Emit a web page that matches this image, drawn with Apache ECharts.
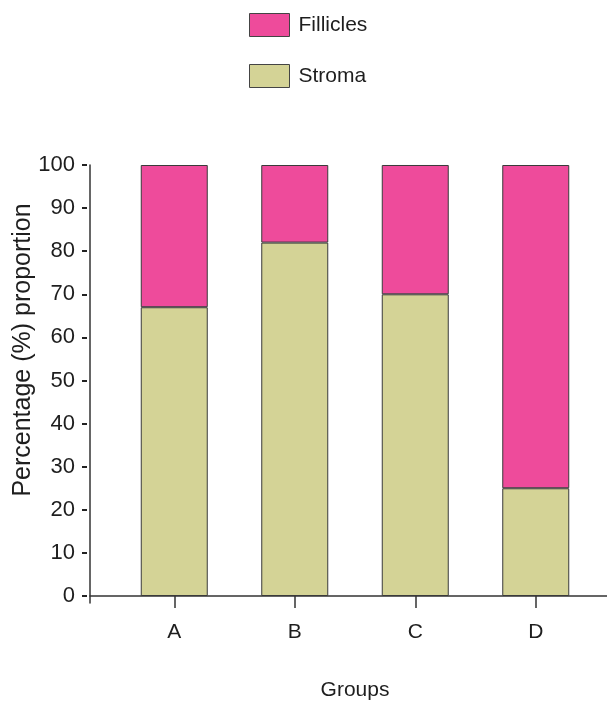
<!DOCTYPE html>
<html>
<head>
<meta charset="utf-8">
<script src="https://cdn.jsdelivr.net/npm/echarts@6/dist/echarts.min.js"></script>
<style>html,body{margin:0;padding:0;background:#fff}#c{width:607px;height:701px}</style>
</head>
<body>
<div id="c"></div>
<script>
var categories = ['A', 'B', 'C', 'D'];
var stroma = [67, 82, 70, 25];
var fillicles = [33, 18, 30, 75];
var yTicks = [0, 10, 20, 30, 40, 50, 60, 70, 80, 90, 100];

var FONT = 'Liberation Sans';
var TXT = '#1e1e1e';
var chart = echarts.init(document.getElementById('c'), null, {renderer: 'canvas'});
chart.setOption({
  animation: false,
  backgroundColor: '#fff',
  legend: {
    orient: 'vertical', left: 249, top: 13, padding: 0,
    itemWidth: 40, itemHeight: 23, itemGap: 27, icon: 'rect',
    data: ['Fillicles', 'Stroma'],
    textStyle: {fontFamily: FONT, fontSize: 21, color: TXT, padding: [3, 0, 0, 4]},
    itemStyle: {borderColor: '#444', borderWidth: 1}
  },
  grid: [
    {left: 114, right: 11, top: 165, bottom: 105, outerBoundsMode: 'none', containLabel: false},
    {left: 90, right: 0, top: 165, bottom: 98, outerBoundsMode: 'none', containLabel: false}
  ],
  xAxis: [
    {
      type: 'category', gridIndex: 0, data: categories, position: 'bottom', offset: 5,
      axisLine: {show: false},
      axisTick: {show: true, alignWithLabel: true, length: 12, lineStyle: {color: '#333', width: 1.5}},
      axisLabel: {margin: 21, fontFamily: FONT, fontSize: 21, color: TXT},
      name: 'Groups', nameLocation: 'middle', nameGap: 79,
      nameTextStyle: {fontFamily: FONT, fontSize: 21, color: TXT}
    },
    {
      type: 'value', gridIndex: 1, min: 0, max: 1,
      axisLine: {show: true, onZero: true, lineStyle: {color: '#333', width: 1.5}},
      axisTick: {show: false}, axisLabel: {show: false}, splitLine: {show: false}
    }
  ],
  yAxis: [
    {
      type: 'value', gridIndex: 1, min: -1.62, max: 100,
      axisLine: {show: true, onZero: false, lineStyle: {color: '#333', width: 1.5}},
      axisTick: {show: false}, axisLabel: {show: false}, splitLine: {show: false}
    },
    {
      type: 'value', gridIndex: 1, min: -1.62, max: 100, position: 'left', offset: 3,
      axisLine: {show: false, onZero: false},
      axisTick: {show: true, length: 5, customValues: yTicks, lineStyle: {color: '#222', width: 2}},
      axisLabel: {show: true, customValues: yTicks, margin: 12, fontFamily: FONT, fontSize: 22, color: TXT},
      splitLine: {show: false}
    },
    {
      type: 'value', gridIndex: 0, min: 0, max: 100, show: false, splitLine: {show: false}
    }
  ],
  graphic: [{
    type: 'text', x: 23, y: 350, rotation: Math.PI / 2,
    style: {text: 'Percentage (%) proportion', fontFamily: FONT, fontSize: 25, fill: TXT,
      align: 'center', verticalAlign: 'middle'}
  }],
  series: [
    {
      name: 'Stroma', type: 'bar', stack: 'g', xAxisIndex: 0, yAxisIndex: 2,
      data: stroma, barWidth: 67,
      itemStyle: {color: '#D4D396', borderColor: '#3a3a3a', borderWidth: 1}
    },
    {
      name: 'Fillicles', type: 'bar', stack: 'g', xAxisIndex: 0, yAxisIndex: 2,
      data: fillicles, barWidth: 67,
      itemStyle: {color: '#EE4B9B', borderColor: '#3a3a3a', borderWidth: 1}
    }
  ]
});
</script>
</body>
</html>
